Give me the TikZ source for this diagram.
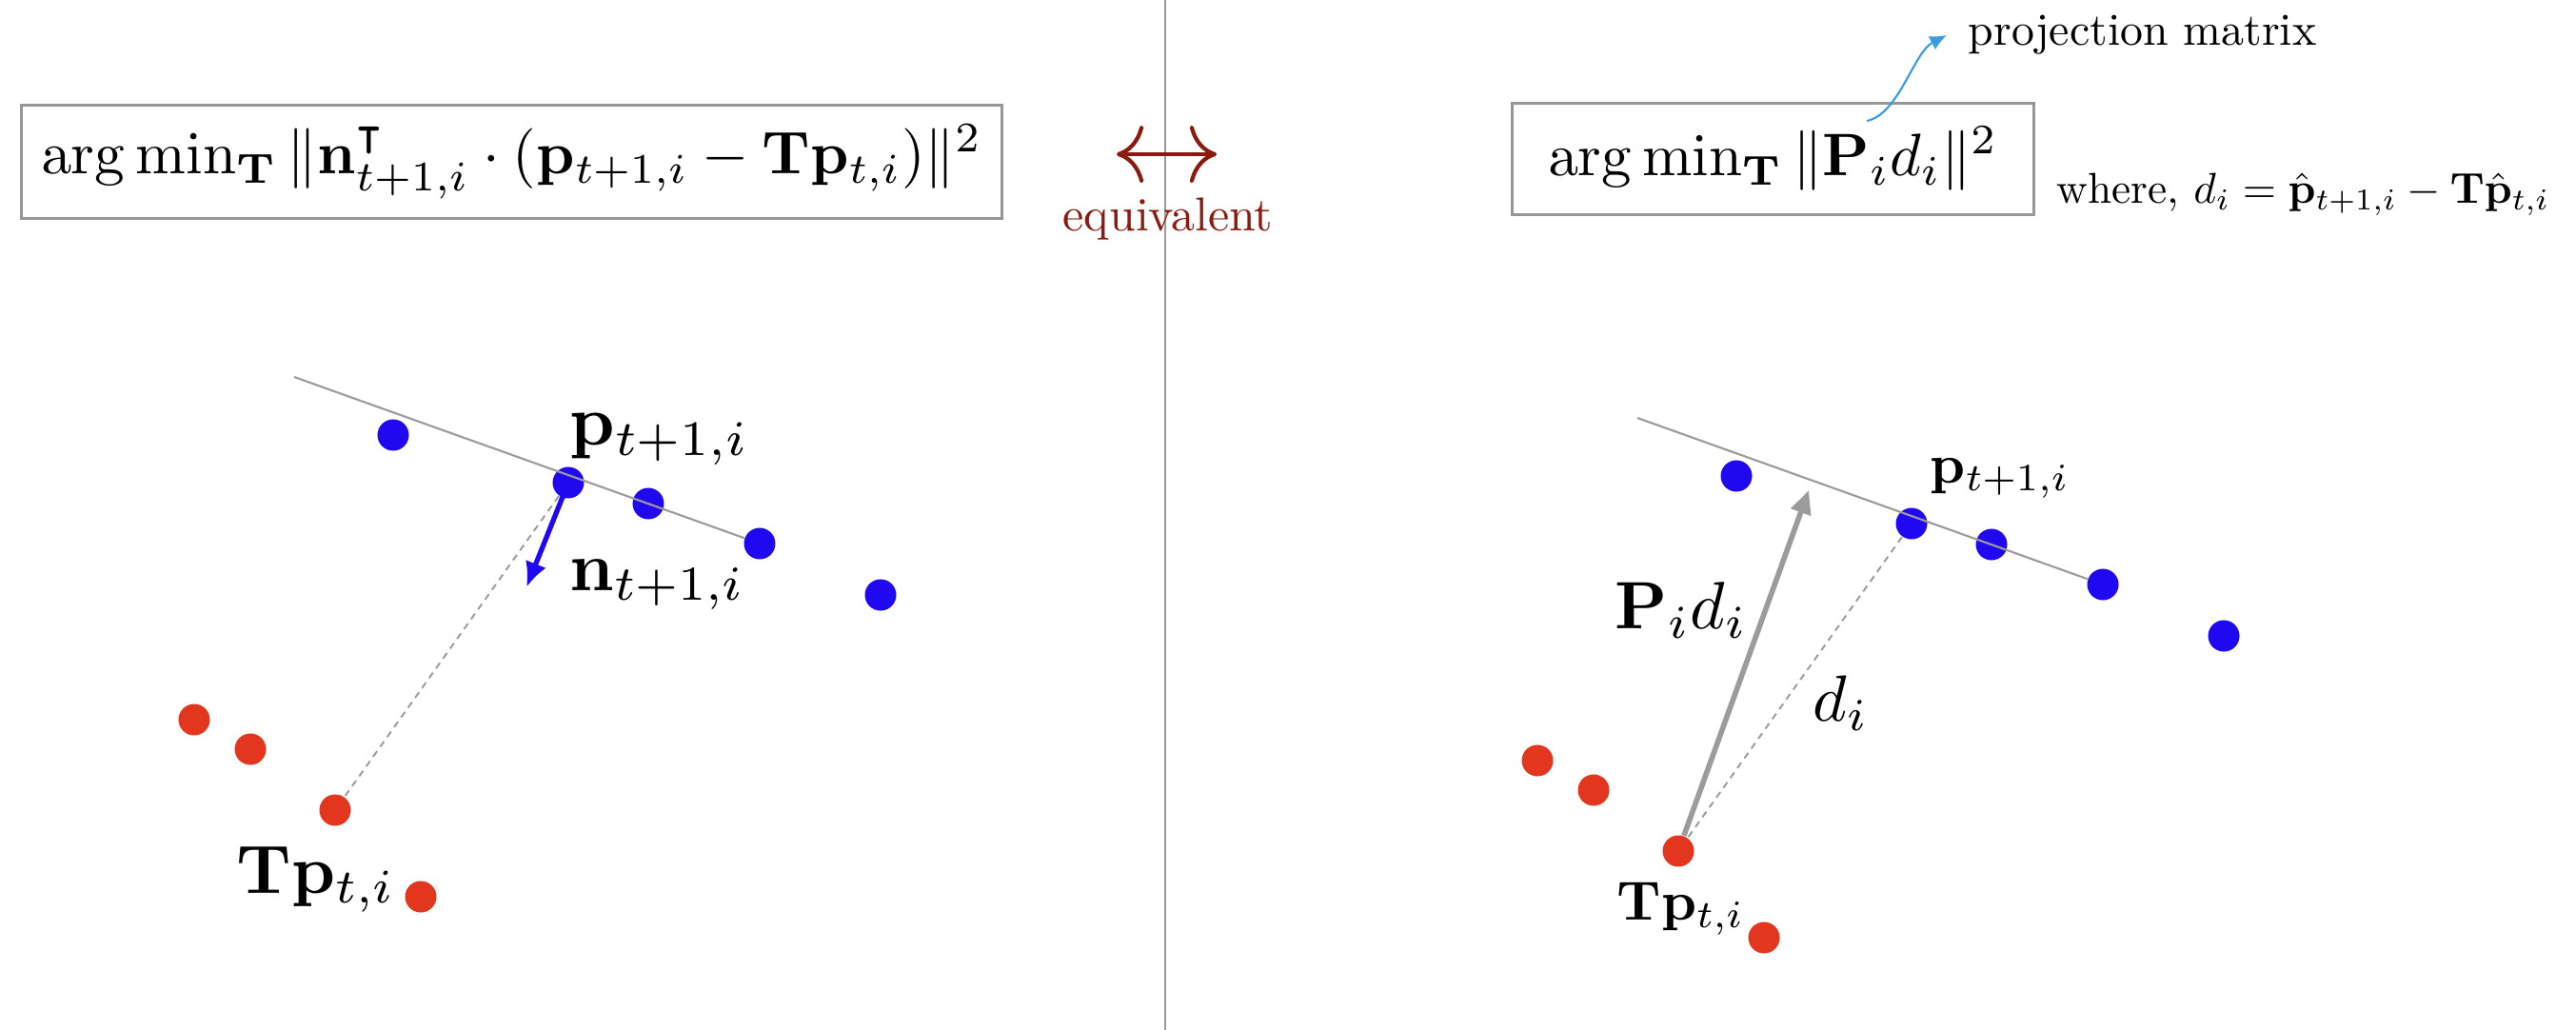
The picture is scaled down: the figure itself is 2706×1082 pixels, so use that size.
\documentclass[tikz,border=0pt]{standalone}
\usepackage{amsmath,amssymb}
\usepackage{graphicx}
\usetikzlibrary{arrows.meta}
\definecolor{dotblue}{RGB}{32,8,240}
\definecolor{dotred}{RGB}{227,54,31}
\definecolor{eqred}{RGB}{140,26,16}
\definecolor{lineg}{RGB}{155,155,155}
\definecolor{boxg}{RGB}{150,150,150}
\definecolor{arrblue}{RGB}{58,155,225}
\begin{document}
\begin{tikzpicture}[x=0.01cm,y=-0.01cm,
  bdot/.style={circle,fill=dotblue,inner sep=0pt,minimum size=0.33cm},
  rdot/.style={circle,fill=dotred,inner sep=0pt,minimum size=0.33cm},
  lbl/.style={inner sep=0pt,anchor=base west},
  fitline/.style={draw=lineg,line width=0.6pt},
  dashl/.style={draw=lineg,line width=0.55pt,dash pattern=on 2pt off 1.6pt},
  formbox/.style={draw=boxg,line width=0.8pt,inner sep=0pt},
  narrow/.style={draw=dotblue,line width=1.5pt,-{Latex[length=7.5pt,width=6.6pt]}},
  parrow/.style={draw=lineg,line width=1.6pt,-{Triangle[length=7pt,width=6pt]}},
  eqarrow/.style={draw=eqred,line width=1.2pt,{Computer Modern Rightarrow[length=8pt,width=17pt]}-{Computer Modern Rightarrow[length=8pt,width=17pt]}}
]
\useasboundingbox (0,0) rectangle (2706,1082);
% divider
\coordinate (vtop) at (1224,0);
\coordinate (vbot) at (1224,1082);
\draw[lineg,line width=0.5pt] (vtop) -- (vbot);
% equivalence
\coordinate (eqL) at (1173,162);
\coordinate (eqR) at (1278,162);
\draw[eqarrow] (eqL) -- (eqR);
\node[inner sep=0pt,anchor=base,text=eqred] (eqtext) at (1227,242) {\scalebox{1.42}{equivalent}};
% formula boxes
\node[formbox,minimum width=10.29cm,minimum height=1.19cm] (lbox) at (537.5,170)
  {\scalebox{1.8}{$\arg\min_{\mathbf{T}} \|\mathbf{n}^{\intercal}_{t+1,i}\cdot(\mathbf{p}_{t+1,i}-\mathbf{T}\mathbf{p}_{t,i})\|^2$}};
\node[formbox,minimum width=5.47cm,minimum height=1.17cm] (rbox) at (1862.5,167)
  {\scalebox{1.79}{$\arg\min_{\mathbf{T}} \|\mathbf{P}_i d_i\|^2$}};
\node[lbl] (where) at (2160,214) {\scalebox{1.29}{where, $d_i = \hat{\mathbf{p}}_{t+1,i} - \mathbf{T}\hat{\mathbf{p}}_{t,i}$}};
\node[lbl] (pm) at (2067,48) {\scalebox{1.36}{projection matrix}};
\coordinate (pmstart) at (1961,127);
\coordinate (pmend) at (2045,37);
\draw[arrblue,line width=0.6pt,-{Latex[length=5pt,width=4.5pt]}] (pmstart) .. controls (1995,120) and (2010,55) .. (pmend);
% ---------- left scene
\node[bdot] (lb1) at (413,457) {};
\node[bdot] (lb2) at (597,507) {};
\node[bdot] (lb3) at (681,529) {};
\node[bdot] (lb4) at (798,571) {};
\node[bdot] (lb5) at (925,625) {};
\node[rdot] (lr1) at (204,756) {};
\node[rdot] (lr2) at (263,787) {};
\node[rdot] (lr3) at (352,851) {};
\node[rdot] (lr4) at (442,942) {};
\coordinate (lls) at (309,396);
\draw[fitline] (lls) -- (lb4);
\draw[dashl] (lb2) -- (lr3);
\coordinate (lnend) at (553,617);
\draw[narrow] (lb2.center) -- (lnend);
\node[lbl] (lplab) at (598,467) {\scalebox{2.12}{$\mathbf{p}_{t+1,i}$}};
\node[lbl] (lnlab) at (598,620) {\scalebox{2.08}{$\mathbf{n}_{t+1,i}$}};
\node[lbl] (ltlab) at (248,938) {\scalebox{2.05}{$\mathbf{T}\mathbf{p}_{t,i}$}};
% ---------- right scene
\node[bdot] (rb1) at (1824,500) {};
\node[bdot] (rb2) at (2008,550) {};
\node[bdot] (rb3) at (2092,572) {};
\node[bdot] (rb4) at (2209,614) {};
\node[bdot] (rb5) at (2336,668) {};
\node[rdot] (rr1) at (1615,799) {};
\node[rdot] (rr2) at (1674,830) {};
\node[rdot] (rr3) at (1763,894) {};
\node[rdot] (rr4) at (1853,985) {};
\coordinate (rls) at (1720,439);
\draw[fitline] (rls) -- (rb4);
\draw[dashl] (rb2) -- (rr3);
\coordinate (rpend) at (1900,515);
\draw[parrow] (rr3) -- (rpend);
\node[lbl] (rplab) at (2027,507) {\scalebox{1.65}{$\mathbf{p}_{t+1,i}$}};
\node[lbl] (rtlab) at (1698,966) {\scalebox{1.65}{$\mathbf{T}\mathbf{p}_{t,i}$}};
\node[lbl] (pdlab) at (1696,660) {\scalebox{2.0}{$\mathbf{P}_i d_i$}};
\node[lbl] (dlab) at (1904,757) {\scalebox{1.95}{$d_i$}};
\end{tikzpicture}
\end{document}
